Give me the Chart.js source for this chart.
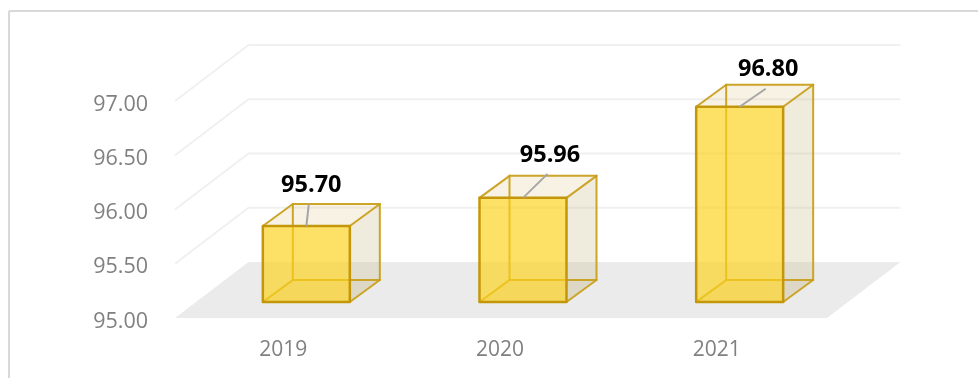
<!DOCTYPE html>
<html>
<head>
<meta charset="utf-8">
<title>Yearly values 2019-2021</title>
<script src="https://cdn.jsdelivr.net/npm/chart.js@4/dist/chart.umd.min.js"></script>
<style>
    html, body { margin: 0; padding: 0; background: #fff; overflow: hidden; }
    canvas { display: block; }
</style>
</head>
<body>
<canvas id="boxChart" width="978" height="378"></canvas>
<script>
"use strict";

const categories = ["2019", "2020", "2021"];
const values = [95.70, 95.96, 96.80];
const tickValues = [95, 95.5, 96, 96.5, 97];

// Leader line end, measured from the middle of each bar's top edge
const leaderDx = [2.5, 24.5, 26];
const leaderDy = [-22, -24, -18];

// Room offsets: wall depth in pixels, and how far in the bars stand from the front edge
const WALL_DX = 73.5;
const WALL_DY = -56;
const FLOOR_EXTRA = 2;
const BAR_IN_X = 23;
const BAR_IN_Y = 16;
const BOX_DX = 30;
const BOX_DY = -22;
const LABEL_DROP = 3.5;

const PLOT = { left: 175, right: 825, top: 101, bottom: 318 };
const pxPerUnit = (PLOT.bottom - PLOT.top) / 2;
const pxPerCategory = (PLOT.right - PLOT.left) / categories.length;
const yMin = tickValues[0];
const yMax = tickValues[tickValues.length - 1];

function fillPoly(ctx, color, pts) {
    ctx.fillStyle = color;
    ctx.beginPath();
    pts.forEach((p, i) => i ? ctx.lineTo(p[0], p[1]) : ctx.moveTo(p[0], p[1]));
    ctx.closePath();
    ctx.fill();
}

function strokeLine(ctx, color, width, x1, y1, x2, y2) {
    ctx.strokeStyle = color;
    ctx.lineWidth = width;
    ctx.beginPath();
    ctx.moveTo(x1, y1);
    ctx.lineTo(x2, y2);
    ctx.stroke();
}

// Card frame, floor and the two walls behind the bars
const roomPlugin = {
    id: "room",
    beforeDatasetsDraw(chart) {
        const ctx = chart.ctx;
        const y = chart.scales.yWall;
        const a = chart.chartArea;
        const right = a.right + FLOOR_EXTRA;
        ctx.save();

        strokeLine(ctx, "#d9d9d9", 2, 9, 378, 9, 11);
        strokeLine(ctx, "#d9d9d9", 2, 9, 11, 978, 11);

        fillPoly(ctx, "#ebebeb", [
            [a.left, a.bottom],
            [right, a.bottom],
            [right + WALL_DX, a.bottom + WALL_DY],
            [a.left + WALL_DX, a.bottom + WALL_DY]
        ]);

        tickValues.forEach((v) => {
            const py = y.getPixelForValue(v);
            if (v > yMin) {
                strokeLine(ctx, "#f0f0f0", 2, a.left + WALL_DX, py + WALL_DY, right + WALL_DX, py + WALL_DY);
                strokeLine(ctx, "#f0f0f0", 2, a.left, py, a.left + WALL_DX, py + WALL_DY);
            }
        });
        ctx.restore();
    }
};

// Glass box around each bar: back faces go under the front face that the bar element fills
const boxPlugin = {
    id: "box",
    beforeDatasetsDraw(chart) {
        const ctx = chart.ctx;
        ctx.save();
        chart.getDatasetMeta(0).data.forEach((bar) => {
            const l = bar.x - bar.width / 2;
            const r = bar.x + bar.width / 2;
            const t = bar.y;
            const b = bar.base;
            const dx = BOX_DX;
            const dy = BOX_DY;

            fillPoly(ctx, "rgba(215,190,120,0.2)", [[l, t], [r, t], [r + dx, t + dy], [l + dx, t + dy]]);
            fillPoly(ctx, "rgba(201,188,142,0.3)", [[r, t], [r + dx, t + dy], [r + dx, b + dy], [r, b]]);
            fillPoly(ctx, "rgba(201,188,142,0.15)", [[l, b], [r, b], [r + dx, b + dy], [l + dx, b + dy]]);

            const edge = "rgba(201,160,30,0.95)";
            ctx.lineCap = "round";
            strokeLine(ctx, edge, 2, l + dx, t + dy, r + dx, t + dy);
            strokeLine(ctx, edge, 2, l + dx, t + dy, l + dx, b + dy);
            strokeLine(ctx, edge, 2, l + dx, b + dy, r + dx, b + dy);
            strokeLine(ctx, edge, 2, r + dx, t + dy, r + dx, b + dy);
            strokeLine(ctx, edge, 2, l, t, l + dx, t + dy);
            strokeLine(ctx, edge, 2, r, t, r + dx, t + dy);
            strokeLine(ctx, edge, 2, l, b, l + dx, b + dy);
            strokeLine(ctx, edge, 2, r, b, r + dx, b + dy);
        });
        ctx.restore();
    },
    afterDatasetsDraw(chart) {
        const ctx = chart.ctx;
        ctx.save();
        ctx.font = "bold 23.5px 'Open Sans'";
        ctx.textAlign = "center";
        ctx.textBaseline = "middle";
        chart.getDatasetMeta(0).data.forEach((bar, i) => {
            // Outline is centred on the bar's own edges so it does not eat into the value height
            ctx.strokeStyle = "#c4960a";
            ctx.lineWidth = 2.5;
            ctx.lineJoin = "round";
            ctx.strokeRect(bar.x - bar.width / 2, bar.y, bar.width, bar.base - bar.y);

            const ex = bar.x + leaderDx[i];
            const ey = bar.y + leaderDy[i];
            strokeLine(ctx, "#a6a6a6", 2, bar.x, bar.y, ex, ey);
            ctx.fillStyle = "#000";
            ctx.fillText(values[i].toFixed(2), ex + 2.5, ey - 19);
        });
        ctx.restore();
    }
};

new Chart(document.getElementById("boxChart"), {
    type: "bar",
    plugins: [roomPlugin, boxPlugin],
    data: {
        labels: categories,
        datasets: [{
            data: categories.map((c, i) => ({ x: i, y: values[i] })),
            xAxisID: "xBar",
            yAxisID: "yBar",
            base: yMin,
            barThickness: 87,
            backgroundColor: "rgba(252,209,27,0.67)",
            borderWidth: 0
        }]
    },
    options: {
        responsive: false,
        animation: false,
        layout: { padding: { left: 0, right: 978 - PLOT.right, top: PLOT.top, bottom: 0 } },
        plugins: { legend: { display: false }, tooltip: { enabled: false } },
        scales: {
            x: {
                type: "category",
                offset: true,
                border: { display: false },
                grid: { display: false, drawTicks: false },
                ticks: { color: "#808080", font: { family: "'Open Sans'", size: 21 }, padding: 19, maxRotation: 0 },
                afterFit: (scale) => { scale.height = 378 - PLOT.bottom; }
            },
            // Labelled axis sits slightly low so the text lines up under each wall line start
            y: {
                min: yMin + LABEL_DROP / pxPerUnit,
                max: yMax + LABEL_DROP / pxPerUnit,
                border: { display: false },
                grid: { display: false, drawTicks: false },
                afterBuildTicks: (scale) => { scale.ticks = tickValues.map((v) => ({ value: v })); },
                ticks: {
                    color: "#808080",
                    font: { family: "'Open Sans'", size: 21.5 },
                    padding: 27,
                    callback: (v) => v.toFixed(2)
                },
                afterFit: (scale) => { scale.width = PLOT.left; }
            },
            yWall: { display: false, min: yMin, max: yMax },
            // Bars stand part way into the floor, so they run on scales shifted from the labelled ones
            xBar: {
                type: "linear",
                display: false,
                offset: false,
                grid: { offset: false },
                min: -0.5 - BAR_IN_X / pxPerCategory,
                max: categories.length - 0.5 - BAR_IN_X / pxPerCategory
            },
            yBar: {
                display: false,
                min: yMin - BAR_IN_Y / pxPerUnit,
                max: yMax - BAR_IN_Y / pxPerUnit
            }
        }
    }
});
</script>
</body>
</html>
